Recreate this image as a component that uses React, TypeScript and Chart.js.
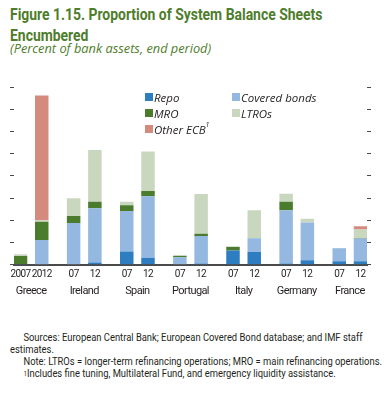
import React, { useEffect, useRef } from 'react';
import { Chart, registerables } from 'chart.js';

Chart.register(...registerables);

// ---- Data ----
const countries = ['Greece', 'Ireland', 'Spain', 'Portugal', 'Italy', 'Germany', 'France'];
const yearLabels = ['2007', '2012', '07', '12', '07', '12', '07', '12', '07', '12', '07', '12', '07', '12'];
const seriesNames = ['Repo', 'Covered bonds', 'MRO', 'LTROs', 'Other ECB'];
const repo = [0.2, 0, 0.1, 0.5, 3.0, 1.6, 0, 0.3, 3.2, 2.9, 0.3, 1.0, 0.8, 0.8];
const coveredBonds = [0, 5.6, 9.3, 12.2, 9.1, 13.8, 1.7, 6.2, 0, 3.1, 12.0, 8.5, 2.9, 5.1];
const mro = [1.8, 4.1, 1.6, 1.5, 1.3, 1.2, 0.3, 0.5, 0.8, 0, 1.9, 0, 0, 0.15];
const ltros = [0.4, 0.3, 4.0, 11.6, 0.8, 8.9, 0.2, 8.9, 0.2, 6.3, 1.8, 0.85, 0.1, 1.9];
const otherEcb = [0, 28.1, 0, 0, 0, 0, 0, 0, 0, 0, 0, 0, 0, 0.7];
const yMin = 0;
const yMax = 40;
const yStep = 5;

const seriesValues = [repo, coveredBonds, mro, ltros, otherEcb];
const seriesColors = ['#2f7dc1', '#94b8e0', '#4b7b2c', '#c9d7bf', '#d58a7e'];

const GREEN = '#4e7d2c';
const SANS = "'Roboto', sans-serif";

// layout helpers (bars in pairs, a wider gap between countries)
const barPos = (i: number) => Math.floor(i / 2) * 2.5 + (i % 2);
const groupCenter = (g: number) => g * 2.5 + 0.5;
const xPad = 0.306;
const xMin = -xPad;
const xMax = barPos(yearLabels.length - 1) + xPad;

// narrows the canvas text a little, as in the condensed face of the original
const condensePlugin = {
  id: 'condense',
  beforeDraw(chart: any) {
    chart.ctx.save();
    chart.ctx.letterSpacing = '-0.6px';
  },
  afterDraw(chart: any) {
    chart.ctx.letterSpacing = '0px';
    chart.ctx.restore();
  },
};

export default function App() {
  const canvasRef = useRef<HTMLCanvasElement | null>(null);

  useEffect(() => {
    if (!canvasRef.current) return;
    const barX = yearLabels.map((_, i) => barPos(i));
    const centers = countries.map((_, g) => groupCenter(g));
    const chart = new Chart(canvasRef.current, {
      type: 'bar',
      data: {
        datasets: seriesNames.map((name, s) => ({
          label: name,
          data: seriesValues[s].map((v, i) => ({ x: barX[i], y: v })),
          backgroundColor: seriesColors[s],
          borderWidth: 0,
          barPercentage: 0.635,
          categoryPercentage: 1,
          xAxisID: 'x',
          yAxisID: 'y',
        })),
      },
      plugins: [condensePlugin],
      options: {
        animation: false,
        responsive: false,
        layout: { padding: { left: 10, right: 20, top: 27, bottom: 0 } },
        plugins: { legend: { display: false }, tooltip: { enabled: false } },
        scales: {
          x: {
            type: 'linear',
            stacked: true,
            offset: false,
            min: xMin,
            max: xMax,
            position: 'bottom',
            grid: { display: false, drawTicks: false },
            border: { display: true, color: '#4a4a4a', width: 2 },
            afterBuildTicks: (s: any) => {
              s.ticks = barX.map((v) => ({ value: v }));
            },
            ticks: {
              autoSkip: false,
              maxRotation: 0,
              padding: 4,
              color: '#231f20',
              font: { family: SANS, size: 10 },
              callback: (_v: any, i: number) => yearLabels[i],
            },
          },
          xc: {
            type: 'linear',
            offset: false,
            min: xMin,
            max: xMax,
            position: 'bottom',
            grid: { display: false, drawTicks: false },
            border: { display: false },
            afterBuildTicks: (s: any) => {
              s.ticks = centers.map((v) => ({ value: v }));
            },
            ticks: {
              autoSkip: false,
              maxRotation: 0,
              padding: 0,
              color: '#231f20',
              font: { family: SANS, size: 11 },
              callback: (_v: any, i: number) => countries[i],
            },
          },
          y: {
            stacked: true,
            min: yMin,
            max: yMax,
            position: 'left',
            ticks: { display: false, stepSize: yStep },
            grid: { drawOnChartArea: false, drawTicks: true, tickLength: 4, tickColor: '#4a4a4a', tickWidth: 1 },
            border: { display: false },
          },
          y2: {
            min: yMin,
            max: yMax,
            position: 'right',
            ticks: { display: false, stepSize: yStep },
            grid: { drawOnChartArea: false, drawTicks: true, tickLength: 4, tickColor: '#4a4a4a', tickWidth: 1 },
            border: { display: false },
          },
        },
      },
    } as any);
    return () => chart.destroy();
  }, []);

  const legendPos = [
    { left: 145, top: 93 },
    { left: 232, top: 93 },
    { left: 145, top: 109 },
    { left: 232, top: 109 },
    { left: 145, top: 125 },
  ];

  return (
    <div style={{ position: 'absolute', left: 0, top: 0, width: 391, height: 400, background: '#fff', overflow: 'hidden' }}>
      <div style={{ position: 'absolute', left: 10, top: 4, color: GREEN, fontFamily: SANS, fontWeight: 'bold', fontSize: 16, lineHeight: '21px', whiteSpace: 'nowrap', transform: 'scaleX(0.87)', transformOrigin: 'left top' }}>
        <div>Figure 1.15. Proportion of System Balance Sheets</div>
        <div>Encumbered</div>
      </div>
      <div style={{ position: 'absolute', left: 10, top: 41, color: GREEN, fontFamily: "'Open Sans', sans-serif", fontStyle: 'italic', fontSize: 12.8, lineHeight: '15px', whiteSpace: 'nowrap' }}>
        (Percent of bank assets, end period)
      </div>
      <canvas ref={canvasRef} width={391} height={238} style={{ position: 'absolute', left: 0, top: 60 }} />
      {seriesNames.map((name, s) => (
        <div key={name} style={{ position: 'absolute', left: legendPos[s].left, top: legendPos[s].top - 3, height: 14, display: 'flex', alignItems: 'center', whiteSpace: 'nowrap', fontFamily: "'Open Sans', sans-serif", fontStyle: 'italic', fontSize: 11.5, color: '#231f20' }}>
          <span style={{ display: 'inline-block', width: 8, height: 8, background: seriesColors[s], marginRight: 1 }} />
          <span>
            {name}
            {name === 'Other ECB' ? <sup style={{ fontSize: 7, verticalAlign: 'top', position: 'relative', top: -2 }}>1</sup> : null}
          </span>
        </div>
      ))}
      <div style={{ position: 'absolute', left: 10, top: 332, fontFamily: SANS, fontSize: 10.5, lineHeight: '12px', color: '#231f20', whiteSpace: 'nowrap', transform: 'scaleX(0.895)', transformOrigin: 'left top' }}>
        <div style={{ paddingLeft: 15 }}>Sources: European Central Bank; European Covered Bond database; and IMF staff</div>
        <div>estimates.</div>
        <div style={{ paddingLeft: 15 }}>Note: LTROs = longer-term refinancing operations; MRO = main refinancing operations.</div>
        <div style={{ paddingLeft: 15 }}>
          <sup style={{ fontSize: 7, verticalAlign: 'top' }}>1</sup>Includes fine tuning, Multilateral Fund, and emergency liquidity assistance.
        </div>
      </div>
    </div>
  );
}
